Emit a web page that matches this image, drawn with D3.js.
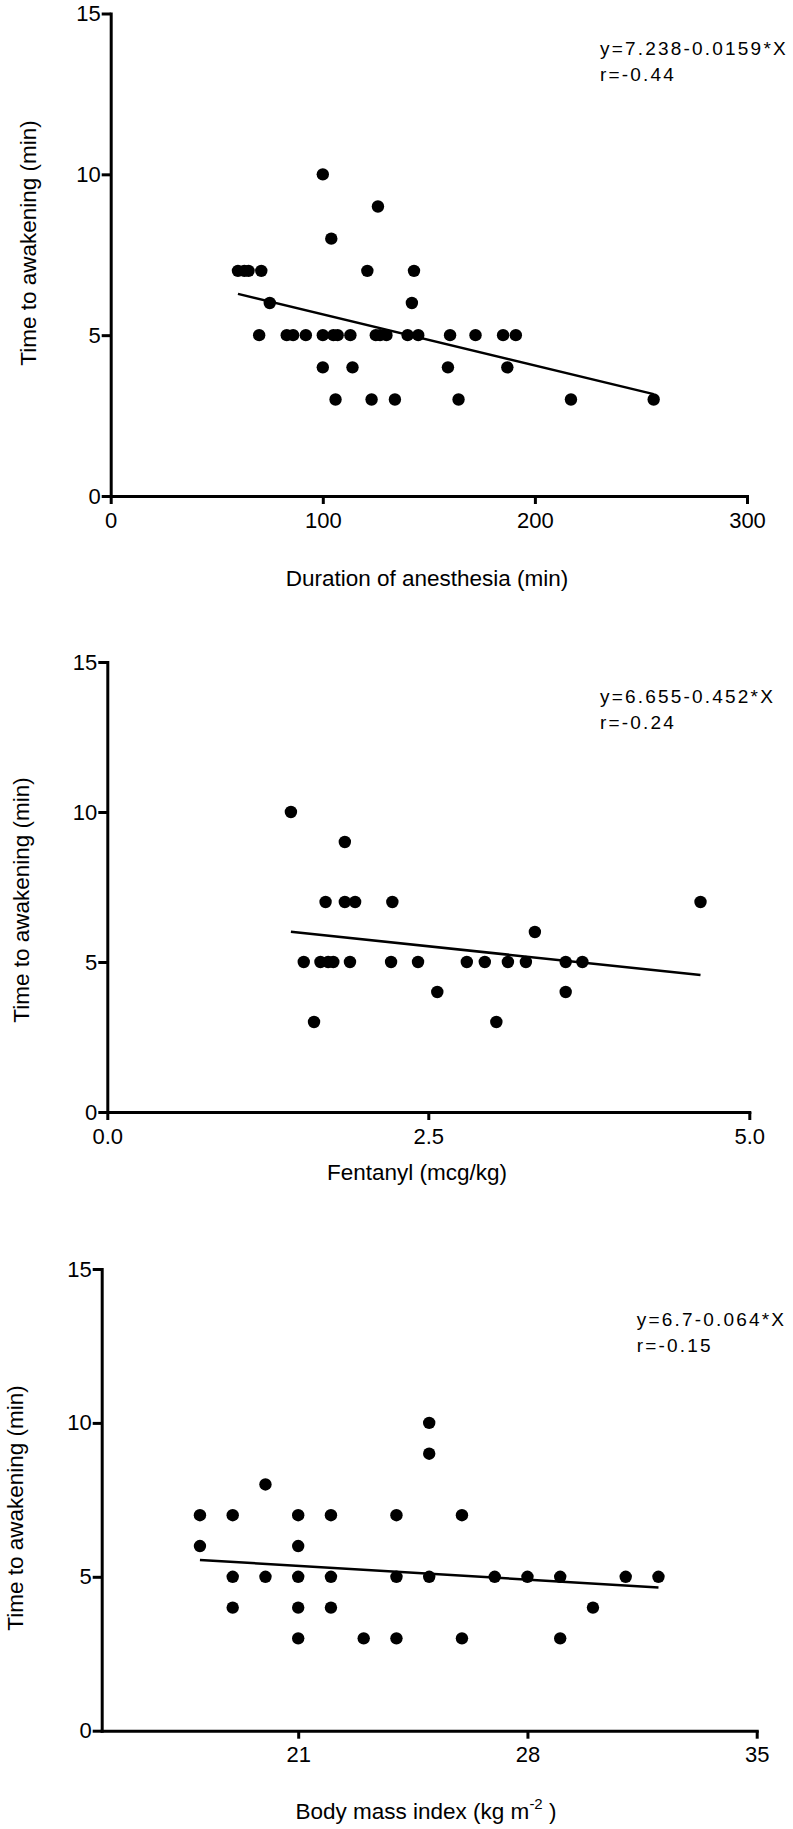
<!DOCTYPE html>
<html>
<head>
<meta charset="utf-8">
<script src="https://cdn.jsdelivr.net/npm/d3@7"></script>
<style>
  html, body { margin: 0; padding: 0; background: #fff; }
  svg { display: block; }
  text { font-family: "Liberation Sans", Arial, Helvetica, sans-serif; fill: #000; }
</style>
</head>
<body>
<svg id="chart" width="793" height="1829"></svg>
<script>
// ---------- DATA ----------
// Panel 1: Duration of anesthesia (min) vs time to awakening (min)
const durationX = [60, 63, 65, 71, 121, 143, 100, 126, 104, 75, 142,
  70, 83, 86, 92, 100, 105, 107, 113, 125, 127, 130, 140, 145, 160, 172, 185, 191,
  100, 114, 159, 187,
  106, 123, 134, 164, 217, 256];
const durationY = [7, 7, 7, 7, 7, 7, 10, 9, 8, 6, 6,
  5, 5, 5, 5, 5, 5, 5, 5, 5, 5, 5, 5, 5, 5, 5, 5, 5,
  4, 4, 4, 4,
  3, 3, 3, 3, 3, 3];
const durationTicks = [0, 100, 200, 300];
const durationFit = { a: 7.238, b: -0.0159 };
const durationNote = ["y=7.238-0.0159*X", "r=-0.44"];

// Panel 2: Fentanyl (mcg/kg)
const fentanylX = [1.43, 1.85, 1.70, 1.85, 1.93, 2.22, 4.62, 3.33,
  1.53, 1.66, 1.72, 1.76, 1.89, 2.21, 2.42, 2.80, 2.94, 3.12, 3.26, 3.57, 3.70,
  2.57, 3.57, 1.61, 3.03];
const fentanylY = [10, 9, 7, 7, 7, 7, 7, 6,
  5, 5, 5, 5, 5, 5, 5, 5, 5, 5, 5, 5, 5,
  4, 4, 3, 3];
const fentanylTicks = [0, 2.5, 5];
const fentanylFit = { a: 6.655, b: -0.452 };
const fentanylNote = ["y=6.655-0.452*X", "r=-0.24"];

// Panel 3: Body mass index (kg m-2)
const bmiX = [18, 19, 21, 22, 24, 26, 18, 21, 20, 25, 25,
  19, 20, 21, 22, 24, 25, 27, 28, 29, 31, 32,
  19, 21, 22, 30,
  21, 23, 24, 26, 29];
const bmiY = [7, 7, 7, 7, 7, 7, 6, 6, 8, 10, 9,
  5, 5, 5, 5, 5, 5, 5, 5, 5, 5, 5,
  4, 4, 4, 4,
  3, 3, 3, 3, 3];
const bmiTicks = [21, 28, 35];
const bmiFit = { a: 6.7, b: -0.064 };
const bmiNote = ["y=6.7-0.064*X", "r=-0.15"];

const yTicks = [0, 5, 10, 15];
const yTitle = "Time to awakening (min)";

// ---------- DRAW ----------
const svg = d3.select("#chart");

function panel(cfg) {
  const g = svg.append("g");
  const x = d3.scaleLinear().domain(cfg.xDomain).range([cfg.left, cfg.right]);
  const y = d3.scaleLinear().domain([0, 15]).range([cfg.bottom, cfg.top]);

  // axes
  const xAxis = d3.axisBottom(x).tickValues(cfg.xTicks).tickSize(8).tickSizeOuter(0)
    .tickPadding(8).tickFormat(cfg.xFormat);
  const yAxis = d3.axisLeft(y).tickValues(yTicks).tickSize(9).tickSizeOuter(0)
    .tickPadding(1).tickFormat(d3.format("d"));

  const gx = g.append("g").attr("transform", `translate(0,${cfg.bottom})`).call(xAxis);
  const gy = g.append("g").attr("transform", `translate(${cfg.left},0)`).call(yAxis);
  [gx, gy].forEach(a => {
    a.attr("font-size", 22).attr("font-family", null);
    a.select(".domain").attr("stroke", "#000").attr("stroke-width", 3).attr("stroke-linecap", "square");
    a.selectAll(".tick line").attr("stroke", "#000").attr("stroke-width", 3);
    a.selectAll(".tick text").attr("fill", "#000");
  });

  // points
  const pts = cfg.xs.map((v, i) => [v, cfg.ys[i]]);
  g.append("g").selectAll("circle").data(pts).join("circle")
    .attr("cx", d => x(d[0])).attr("cy", d => y(d[1])).attr("r", 6.2).attr("fill", "#000");

  // regression line over data range
  const [xmin, xmax] = d3.extent(cfg.xs);
  g.append("line")
    .attr("x1", x(xmin)).attr("y1", y(cfg.fit.a + cfg.fit.b * xmin))
    .attr("x2", x(xmax)).attr("y2", y(cfg.fit.a + cfg.fit.b * xmax))
    .attr("stroke", "#000").attr("stroke-width", 2.5);

  // annotation
  cfg.note.forEach((t, i) => {
    g.append("text").attr("x", cfg.noteX).attr("y", cfg.noteY + i * 26)
      .attr("font-size", 19).attr("letter-spacing", 2.2).text(t);
  });

  // y title
  g.append("text")
    .attr("transform", `translate(${cfg.yTitleX},${cfg.yTitleY}) rotate(-90)`)
    .attr("text-anchor", "middle").attr("font-size", 22.5).text(yTitle);

  // x title
  const xt = g.append("text").attr("x", cfg.xTitleX).attr("y", cfg.xTitleY)
    .attr("text-anchor", "middle").attr("font-size", 22.5);
  if (cfg.xTitleSup) {
    xt.append("tspan").text(cfg.xTitle[0]);
    xt.append("tspan").attr("dy", -10).attr("font-size", 15).text(cfg.xTitle[1]);
    xt.append("tspan").attr("dy", 10).text(cfg.xTitle[2]);
  } else {
    xt.text(cfg.xTitle);
  }
}

panel({
  xs: durationX, ys: durationY, xDomain: [0, 300], xTicks: durationTicks,
  xFormat: d3.format("d"), fit: durationFit, note: durationNote,
  left: 110.7, right: 747, top: 13.5, bottom: 496,
  noteX: 600, noteY: 55, yTitleX: 35.5, yTitleY: 243,
  xTitle: "Duration of anesthesia (min)", xTitleX: 427, xTitleY: 586
});

panel({
  xs: fentanylX, ys: fentanylY, xDomain: [0, 5], xTicks: fentanylTicks,
  xFormat: d3.format(".1f"), fit: fentanylFit, note: fentanylNote,
  left: 107.3, right: 749.3, top: 662, bottom: 1112,
  noteX: 600, noteY: 703, yTitleX: 28.5, yTitleY: 900,
  xTitle: "Fentanyl (mcg/kg)", xTitleX: 417, xTitleY: 1180
});

panel({
  xs: bmiX, ys: bmiY, xDomain: [15, 35], xTicks: bmiTicks,
  xFormat: d3.format("d"), fit: bmiFit, note: bmiNote,
  left: 101.7, right: 756.7, top: 1269, bottom: 1730.7,
  noteX: 636.7, noteY: 1326, yTitleX: 22.7, yTitleY: 1508,
  xTitleSup: true, xTitle: ["Body mass index (kg m", "-2", " )"], xTitleX: 426, xTitleY: 1819
});
</script>
</body>
</html>
